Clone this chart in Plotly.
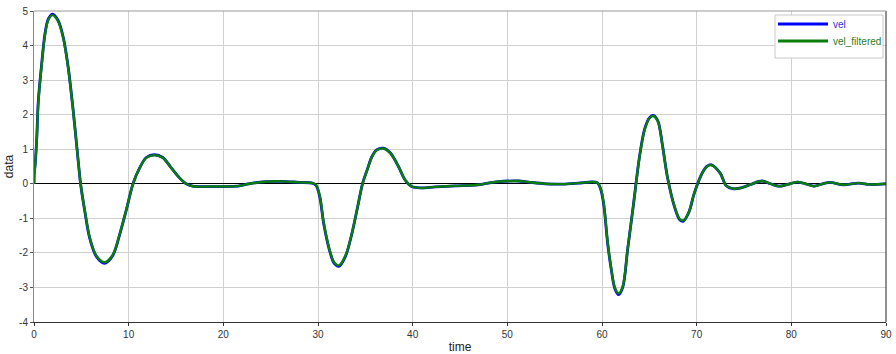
import plotly.graph_objects as go

time = [0, 0.1, 0.28, 0.46, 0.81, 1.16, 1.51, 1.96, 2.56, 3.09, 3.61, 4.14, 4.67, 4.92,
        5.37, 5.89, 6.6, 7.47, 8.35, 9.05, 9.75, 10.46, 11.16, 11.86, 12.74, 13.6, 14.5,
        15.37, 16.07, 16.77, 18.5, 21.7, 22.7, 24.5, 26.2, 28, 29.4, 29.8, 30.2, 30.6,
        31.2, 31.7, 32.2, 32.9, 33.6, 34.2, 34.7, 35.2, 35.7, 36.2, 36.9, 37.65, 38.5,
        39.2, 39.9, 40.8, 42.4, 44.5, 46.9, 48.7, 51.2, 52.2, 54, 55.7, 57.5, 59.5,
        59.9, 60.2, 60.6, 61.0, 61.35, 61.75, 62.2, 62.7, 63.3, 63.97, 64.5, 65.0, 65.4,
        65.9, 66.4, 66.9, 67.65, 68.2, 68.6, 69.2, 69.75, 70.6, 71.1, 71.55, 72.5, 73.1,
        73.8, 74.7, 75.7, 76.9, 77.8, 78.7, 79.6, 80.6, 81.5, 82.4, 83.3, 84.1, 85.5,
        87.1, 88.3, 90]

vel = [0.35, 0.5, 1.26, 2.41, 3.47, 4.34, 4.77, 4.91, 4.72, 4.24, 3.38, 2.12, 0.66, 0,
       -0.8, -1.58, -2.11, -2.3, -2.06, -1.47, -0.76, 0, 0.46, 0.76, 0.84, 0.76, 0.46,
       0.17, 0, -0.07, -0.08, -0.06, 0, 0.06, 0.07, 0.04, 0.02, -0.05, -0.4, -1.15,
       -1.91, -2.3, -2.39, -2.1, -1.42, -0.65, 0, 0.41, 0.79, 0.98, 1.03, 0.89, 0.5,
       0.11, -0.08, -0.12, -0.09, -0.06, -0.03, 0.05, 0.08, 0.05, 0, -0.01, 0.02, 0.03,
       -0.2, -0.64, -1.73, -2.52, -3.03, -3.21, -2.99, -1.92, -0.65, 0.8, 1.58, 1.91, 1.98,
       1.82, 1.09, 0.21, -0.66, -1.04, -1.08, -0.81, -0.27, 0.32, 0.51, 0.55, 0.3, -0.05,
       -0.14, -0.12, -0.02, 0.08, 0, -0.07, -0.02, 0.05, 0, -0.07, 0, 0.04, -0.03,
       0.02, -0.02, 0]

vel_filtered = [0, 0.46, 1.23, 2.38, 3.44, 4.31, 4.74, 4.88, 4.69, 4.21, 3.35, 2.1, 0.65, 0,
                -0.79, -1.56, -2.09, -2.27, -2.04, -1.46, -0.75, 0, 0.46, 0.75, 0.83, 0.75, 0.46,
                0.17, 0, -0.07, -0.08, -0.06, 0, 0.06, 0.07, 0.04, 0.02, -0.03, -0.36, -1.12,
                -1.89, -2.27, -2.36, -2.08, -1.41, -0.65, 0, 0.4, 0.78, 0.97, 1.02, 0.88, 0.5,
                0.11, -0.08, -0.12, -0.09, -0.06, -0.03, 0.05, 0.08, 0.05, 0, -0.01, 0.02, 0.03,
                -0.17, -0.6, -1.7, -2.5, -3.0, -3.17, -2.96, -1.9, -0.65, 0.79, 1.56, 1.89, 1.96,
                1.8, 1.08, 0.21, -0.65, -1.02, -1.06, -0.8, -0.27, 0.32, 0.5, 0.54, 0.3, -0.05,
                -0.14, -0.12, -0.02, 0.08, 0, -0.07, -0.02, 0.05, 0, -0.07, 0, 0.04, -0.03,
                0.02, -0.02, 0]

x_ticks = [0, 10, 20, 30, 40, 50, 60, 70, 80, 90]
y_ticks = [-4, -3, -2, -1, 0, 1, 2, 3, 4, 5]

BLUE = "#0000ff"
GREEN = "#0a7d0a"

fig = go.Figure()
fig.add_trace(go.Scatter(x=[0] + time, y=[0] + vel, mode="lines", name="vel",
                         line=dict(color=BLUE, width=2.8, shape="spline", smoothing=0.9),
                         showlegend=False))
fig.add_trace(go.Scatter(x=time, y=vel_filtered, mode="lines", name="vel_filtered",
                         line=dict(color=GREEN, width=2.4, shape="spline", smoothing=0.9),
                         showlegend=False))

L, R, T, B = 34, 10, 11, 32
W, H = 896, 354
pw, ph = W - L - R, H - T - B


def px(xp):
    return (xp - L) / pw


def py(yp):
    return 1 - (yp - T) / ph


tickfont = dict(family="Liberation Sans, Arial", size=10, color="#333333")

fig.update_layout(
    width=W, height=H,
    margin=dict(l=L, r=R, t=T, b=B, autoexpand=False),
    paper_bgcolor="white", plot_bgcolor="white",
    xaxis=dict(range=[0, 90], tickvals=x_ticks, ticktext=[str(v) for v in x_ticks],
               automargin=False,
               showgrid=True, gridcolor="#d0d0d0", gridwidth=1, zeroline=False,
               showline=True, linecolor="#333333", linewidth=1,
               ticks="outside", ticklen=3, tickcolor="#333333", tickfont=tickfont,
               title=dict(text="time", font=dict(family="Liberation Sans, Arial", size=12,
                                                 color="#222222"), standoff=6)),
    yaxis=dict(range=[-4, 5], tickvals=y_ticks, ticktext=[str(v) for v in y_ticks],
               automargin=False,
               showgrid=True, gridcolor="#d0d0d0", gridwidth=1,
               zeroline=True, zerolinecolor="#000000", zerolinewidth=1,
               showline=True, linecolor="#888888", linewidth=1,
               ticks="outside", ticklen=3, tickcolor="#555555", tickfont=tickfont,
               title=dict(text="data", font=dict(family="Liberation Sans, Arial", size=12,
                                                 color="#222222"), standoff=2)),
    showlegend=False,
)

# frame lines (right dark, top gray)
fig.add_shape(type="line", xref="paper", yref="paper", x0=1, x1=1, y0=0, y1=1,
              line=dict(color="#222222", width=1))
fig.add_shape(type="line", xref="paper", yref="paper", x0=0, x1=1, y0=1, y1=1,
              line=dict(color="#999999", width=1))

# legend box
fig.add_shape(type="rect", xref="paper", yref="paper",
              x0=px(775), x1=px(883), y0=py(58), y1=py(15),
              line=dict(color="#c8c8c8", width=1), fillcolor="white", layer="above")
fig.add_shape(type="line", xref="paper", yref="paper", x0=px(778), x1=px(828),
              y0=py(24), y1=py(24), line=dict(color=BLUE, width=3), layer="above")
fig.add_shape(type="line", xref="paper", yref="paper", x0=px(778), x1=px(828),
              y0=py(41), y1=py(41), line=dict(color=GREEN, width=3), layer="above")
fig.add_annotation(xref="paper", yref="paper", x=px(831), y=py(24), text="vel",
                   showarrow=False, xanchor="left", yanchor="middle",
                   font=dict(family="Liberation Sans, Arial", size=10, color="#3030d0"))
fig.add_annotation(xref="paper", yref="paper", x=px(831), y=py(41), text="vel_filtered",
                   showarrow=False, xanchor="left", yanchor="middle",
                   font=dict(family="Liberation Sans, Arial", size=10, color="#2a7a2a"))

fig.write_html("out.html")
